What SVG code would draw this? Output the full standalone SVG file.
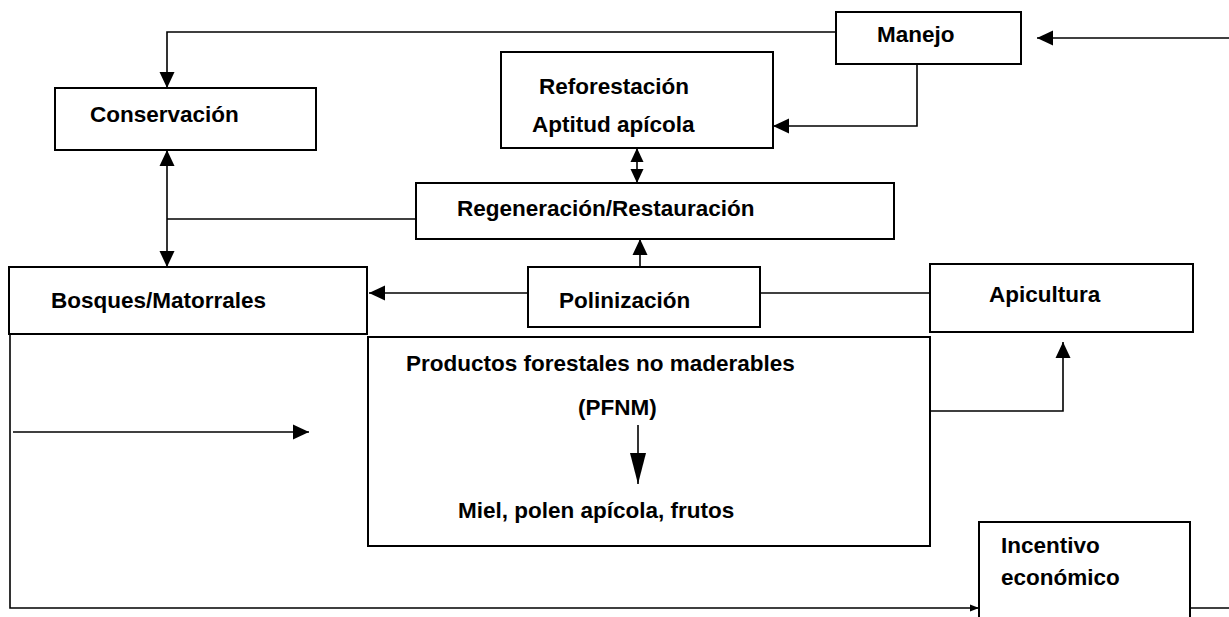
<svg xmlns="http://www.w3.org/2000/svg" width="1229" height="617" viewBox="0 0 1229 617">
<style>
.box{fill:none;stroke:#000;stroke-width:2}
.ln{fill:none;stroke:#000;stroke-width:1.6}
text{font-family:"Liberation Sans",Arial,sans-serif;font-weight:bold;font-size:22.5px;fill:#000}
</style>
<defs>
<marker id="ah" markerUnits="userSpaceOnUse" markerWidth="16" markerHeight="16" viewBox="0 0 16 16" refX="16" refY="8" orient="auto-start-reverse"><path d="M0,0.5 L16,8 L0,15.5 Z" fill="#000"/></marker>
<marker id="ahs" markerUnits="userSpaceOnUse" markerWidth="14" markerHeight="14" viewBox="0 0 14 14" refX="14" refY="7" orient="auto-start-reverse"><path d="M0,0.5 L14,7 L0,13.5 Z" fill="#000"/></marker>
<marker id="aht" markerUnits="userSpaceOnUse" markerWidth="9" markerHeight="8" viewBox="0 0 9 8" refX="9" refY="4" orient="auto"><path d="M0,0.5 L9,4 L0,7.5 Z" fill="#000"/></marker>
<marker id="ahl" markerUnits="userSpaceOnUse" markerWidth="31" markerHeight="16" viewBox="0 0 31 16" refX="31" refY="8" orient="auto"><path d="M0,0 L31,8 L0,16 Z" fill="#000"/></marker>
</defs>
<rect width="1229" height="617" fill="#fff"/>
<g id="connectors">
<path class="ln" d="M836,32 H167 V88" marker-end="url(#ah)"/>
<path class="ln" d="M1229,38 H1037" marker-end="url(#ah)"/>
<path class="ln" d="M917,64 V126 H773" marker-end="url(#ah)"/>
<path class="ln" d="M637,148 V183" marker-start="url(#ahs)" marker-end="url(#ahs)"/>
<path class="ln" d="M167,150 V267" marker-start="url(#ah)" marker-end="url(#ah)"/>
<path class="ln" d="M167,219 H416"/>
<path class="ln" d="M640,267 V239" marker-end="url(#ah)"/>
<path class="ln" d="M528,293 H369" marker-end="url(#ah)"/>
<path class="ln" d="M760,293 H930"/>
<path class="ln" d="M930,411 H1063 V342" marker-end="url(#ah)"/>
<path class="ln" d="M13,432 H309" marker-end="url(#ah)"/>
<path class="ln" d="M638,425 V484" marker-end="url(#ahl)"/>
<path class="ln" d="M10,334 V608 H979" marker-end="url(#aht)"/>
<path class="ln" d="M1190,608 H1229"/>
</g>
<g id="manejo"><rect class="box" x="836" y="12" width="185" height="52"/><text x="877" y="42">Manejo</text></g>
<g id="reforestacion"><rect class="box" x="501" y="52" width="272" height="96"/><text x="539" y="94">Reforestación</text><text x="532" y="132">Aptitud apícola</text></g>
<g id="conservacion"><rect class="box" x="55" y="88" width="261" height="62"/><text x="90" y="122">Conservación</text></g>
<g id="regeneracion"><rect class="box" x="416" y="183" width="478" height="56"/><text x="457" y="216">Regeneración/Restauración</text></g>
<g id="bosques"><rect class="box" x="9" y="267" width="358" height="67"/><text x="51" y="308">Bosques/Matorrales</text></g>
<g id="polinizacion"><rect class="box" x="528" y="267" width="232" height="60"/><text x="559" y="308">Polinización</text></g>
<g id="apicultura"><rect class="box" x="930" y="264" width="263" height="68"/><text x="989" y="302">Apicultura</text></g>
<g id="pfnm"><rect class="box" x="368" y="337" width="562" height="209"/><text x="406" y="371">Productos forestales no maderables</text><text x="578" y="415">(PFNM)</text><text x="458" y="518">Miel, polen apícola, frutos</text></g>
<g id="incentivo"><path class="box" d="M979,620 V522 H1190 V620"/><text x="1001" y="553">Incentivo</text><text x="1001" y="585">económico</text></g>
</svg>
